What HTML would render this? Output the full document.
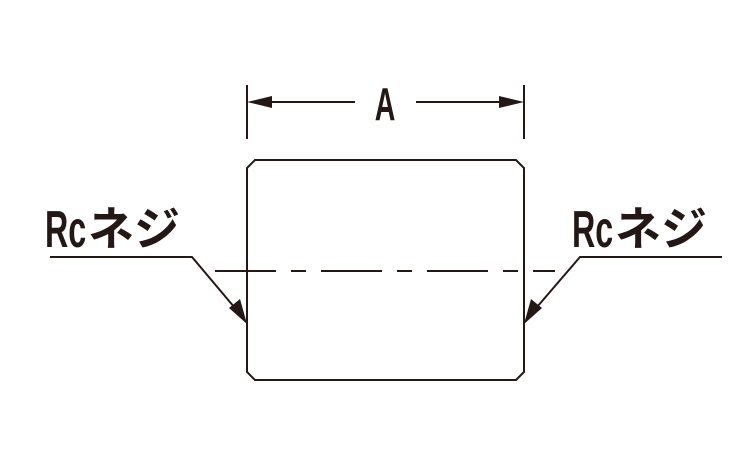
<!DOCTYPE html>
<html><head><style>body{margin:0;background:#fff}svg{display:block}</style></head>
<body>
<svg width="750" height="450" viewBox="0 0 750 450" xmlns="http://www.w3.org/2000/svg">
<g stroke="#231815" stroke-width="2" fill="none">
<line x1="247" y1="85" x2="247" y2="139"/>
<line x1="524" y1="85" x2="524" y2="139"/>
<line x1="255" y1="102" x2="355" y2="102"/>
<line x1="416" y1="102" x2="518" y2="102"/>
<path d="M255,160 L516,160 L524,168 L524,372 L516,380 L255,380 L247,372 L247,168 Z"/>
<line x1="215" y1="271" x2="555" y2="271" stroke-dasharray="61 15 15 15"/>
<polyline points="50,257 192,257 240,314"/>
<polyline points="722,257 580,257 531,314"/>
</g>
<g fill="#231815">
<polygon points="247,102 272,96 272,108"/>
<polygon points="524,102 499,96 499,108"/>
<polygon points="247,324 229,308 240,299"/>
<polygon points="524,324 542,308 531,299"/>
</g>
<g font-family="'Liberation Sans','Noto Sans CJK JP',sans-serif" fill="#231815" font-weight="bold">
<text x="385" y="120" text-anchor="middle" font-size="46" transform="translate(385 0) scale(0.62 1) translate(-385 0)">A</text>
<text x="45" y="247" font-size="52" transform="translate(45 0) scale(0.62 1) translate(-45 0)">Rc</text>
<text x="88" y="245" font-size="46">ネジ</text>
<text x="572" y="247" font-size="52" transform="translate(572 0) scale(0.62 1) translate(-572 0)">Rc</text>
<text x="615" y="245" font-size="46">ネジ</text>
</g>
</svg>
</body></html>
